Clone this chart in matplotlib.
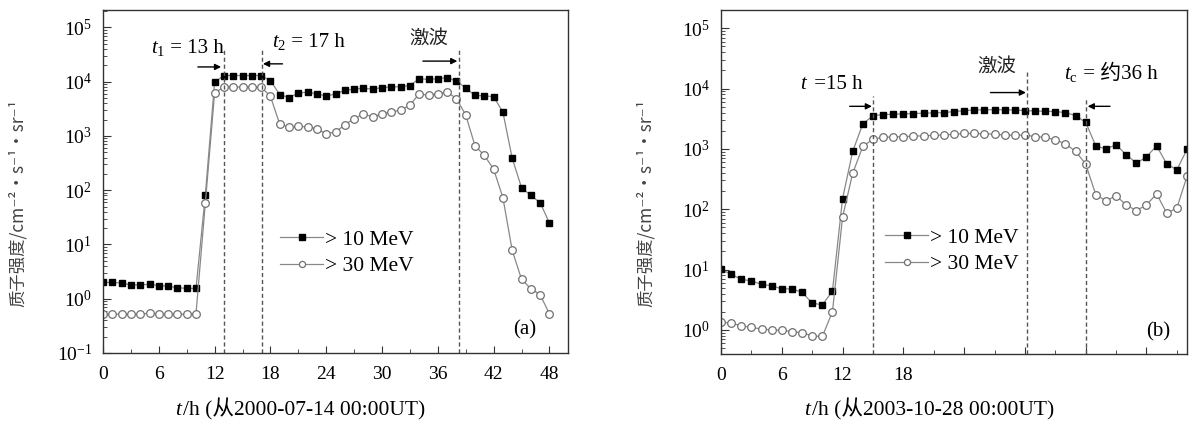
import matplotlib
matplotlib.use("Agg")
import matplotlib.pyplot as plt
from matplotlib.ticker import LogLocator, LogFormatterMathtext, MultipleLocator, NullFormatter
from matplotlib.offsetbox import TextArea, HPacker, AnnotationBbox

plt.rcParams['font.family'] = ['Liberation Serif', 'Noto Sans CJK SC']
plt.rcParams['mathtext.fontset'] = 'custom'
plt.rcParams['mathtext.rm'] = 'Liberation Serif'
plt.rcParams['mathtext.it'] = 'Liberation Serif:italic'

# panel (a): 2000-07-14, hourly
hours_a = list(range(0, 49))
p10_a = [2.0, 2.0, 1.95, 1.8, 1.8, 1.85, 1.75, 1.7, 1.6, 1.55, 1.55,
         80, 9800, 13000, 13000, 13000, 13000, 13000, 10500, 5800, 5100,
         6200, 6400, 6000, 5400, 6000, 6900, 7300, 7600, 7300, 7800,
         8000, 8100, 8500, 11400, 11000, 11400, 11800, 10500, 7600, 5600,
         5500, 5300, 2750, 390, 112, 80, 59, 25]
p30_a = [0.52, 0.52, 0.52, 0.52, 0.52, 0.54, 0.52, 0.52, 0.52, 0.52, 0.53,
         57, 6200, 8000, 8000, 8000, 8000, 8000, 5400, 1660, 1450,
         1500, 1480, 1350, 1100, 1180, 1600, 2100, 2550, 2250, 2550,
         2780, 3000, 3700, 6000, 5600, 6000, 6500, 4900, 2450, 660,
         440, 245, 73, 7.8, 2.3, 1.53, 1.19, 0.53]

# panel (b): 2003-10-28, hourly
hours_b = list(range(0, 47))
p10_b = [10.1, 8.4, 6.9, 6.5, 5.7, 5.4, 4.8, 4.8, 4.2, 2.8, 2.6,
         4.4, 150, 910, 2600, 3550, 3700, 3750, 3800, 3850, 3900,
         3950, 4000, 4150, 4300, 4400, 4450, 4450, 4450, 4400, 4300,
         4250, 4200, 4150, 4000, 3560, 2750, 1120, 1000, 1170, 800,
         580, 740, 1120, 565, 450, 980]
p30_b = [1.37, 1.29, 1.18, 1.1, 1.04, 1.0, 0.99, 0.94, 0.9, 0.8, 0.78,
         2.0, 74, 395, 1100, 1450, 1550, 1580, 1600, 1620, 1650,
         1680, 1700, 1750, 1800, 1800, 1780, 1750, 1700, 1680, 1700,
         1600, 1550, 1410, 1210, 910, 560, 174, 138, 167, 118,
         95, 118, 180, 86, 105, 350]

legend_labels = ["> 10 MeV", "> 30 MeV"]
ylabel = "质子强度/cm⁻²·s⁻¹·sr⁻¹"
W, H = 1189, 423

fig = plt.figure(figsize=(W / 100, H / 100), dpi=100)


def px_axes(left, top, right, bottom):
    return fig.add_axes([left / W, 1 - bottom / H, (right - left) / W, (bottom - top) / H])


def rich(ax, pieces, xy, coords, size=15):
    boxes = [TextArea(s, textprops=dict(size=size, **kw)) for s, kw in pieces]
    pack = HPacker(children=boxes, align="baseline", pad=0, sep=0)
    ab = AnnotationBbox(pack, xy, xycoords=coords, frameon=False,
                        box_alignment=(0.5, 0.5), pad=0)
    ax.add_artist(ab)


def arrow(ax, x0, x1, yf):
    ax.annotate("", xy=(x1, yf), xytext=(x0, yf),
                xycoords=("data", "axes fraction"), textcoords=("data", "axes fraction"),
                arrowprops=dict(arrowstyle="-|>", color="k", lw=1.0,
                                mutation_scale=9, shrinkA=0, shrinkB=0))


def style(ax, xmax, ymin, ymax, labeled):
    ax.set_yscale("log")
    ax.set_xlim(0, xmax)
    ax.set_ylim(ymin, ymax)
    ax.xaxis.set_major_locator(MultipleLocator(6))
    ax.xaxis.set_minor_locator(MultipleLocator(3))
    ax.xaxis.set_major_formatter(plt.FuncFormatter(
        lambda v, p: "%d" % v if v <= labeled else ""))
    ax.yaxis.set_major_locator(LogLocator(base=10))
    ax.yaxis.set_major_formatter(LogFormatterMathtext())
    ax.yaxis.set_minor_locator(LogLocator(base=10, subs=range(2, 10)))
    ax.yaxis.set_minor_formatter(NullFormatter())
    ax.tick_params(which="both", direction="in", top=False, right=False,
                   labelsize=14, color="#333333")
    ax.tick_params(axis="x", which="major", length=5, pad=9)
    ax.tick_params(axis="x", which="minor", length=3)
    ax.tick_params(axis="y", which="major", length=6, pad=8)
    ax.tick_params(axis="y", which="minor", length=3)
    for s in ax.spines.values():
        s.set_color("#333333")
        s.set_linewidth(1.0)


def draw_series(ax, hours, p10, p30, leg_xy):
    ax.plot(hours, p10, color="#888888", lw=0.9, marker="s", ms=4.8,
            mfc="k", mec="k", label=legend_labels[0])
    ax.plot(hours, p30, color="#888888", lw=0.9, marker="o", ms=5.5,
            mfc="white", mec="#707070", mew=0.9, label=legend_labels[1])
    ax.legend(loc="upper left", bbox_to_anchor=leg_xy, frameon=False, fontsize=15.5,
              handlelength=2.0, handletextpad=0.1, labelspacing=0.3, markerscale=0.8,
              borderpad=0, borderaxespad=0)


def vline(ax, x, top):
    ax.axvline(x, ymin=0, ymax=top, color="#555555", lw=1.0, ls=(0, (3, 2)))


# ---- panel (a)
ax1 = px_axes(103, 10, 568, 353)
draw_series(ax1, hours_a, p10_a, p30_a, (0.381, 0.36))
style(ax1, 50, 0.1, 2.1e5, 48)
vline(ax1, 13, 0.883)
vline(ax1, 17.1, 0.883)
vline(ax1, 38.3, 0.885)
rich(ax1, [(r"$t_{\mathrm{1}}$", {}), (" = 13 h", {})], (9.1, 0.889), ("data", "axes fraction"))
rich(ax1, [(r"$t_{\mathrm{2}}$", {}), (" = 17 h", {})], (22.1, 0.904), ("data", "axes fraction"))
ax1.text(35.0, 0.918, "激波", transform=ax1.get_xaxis_transform(), ha="center", va="center",
         fontsize=14, family="Noto Sans CJK SC", color="#222222")
arrow(ax1, 10.2, 12.7, 0.834)
arrow(ax1, 19.3, 17.2, 0.843)
arrow(ax1, 34.4, 38.1, 0.851)
ax1.text(45.3, 0.067, "(a)", transform=ax1.get_xaxis_transform(), ha="center", va="center",
         fontsize=15)

# ---- panel (b)
ax2 = px_axes(721, 10, 1187, 354)
draw_series(ax2, hours_b, p10_b, p30_b, (0.352, 0.367))
style(ax2, 46, 0.4, 2.0e5, 18)
vline(ax2, 15, 0.749)
vline(ax2, 30.2, 0.819)
vline(ax2, 36, 0.74)
rich(ax2, [(r"$t$", {}), (" =15 h", {})], (10.9, 0.784), ("data", "axes fraction"))
ax2.text(27.2, 0.836, "激波", transform=ax2.get_xaxis_transform(), ha="center", va="center",
         fontsize=14, family="Noto Sans CJK SC", color="#222222")
rich(ax2, [(r"$t_{\mathrm{c}}$", {}), (" = 约36 h", {})], (38.5, 0.813), ("data", "axes fraction"))
arrow(ax2, 12.7, 14.9, 0.72)
arrow(ax2, 26.6, 30.1, 0.76)
arrow(ax2, 38.4, 36.2, 0.72)
ax2.text(43.2, 0.064, "(b)", transform=ax2.get_xaxis_transform(), ha="center", va="center",
         fontsize=15)

# ---- axis titles
for xc, date in [(300, "2000-07-14"), (929, "2003-10-28")]:
    rich(fig, [(r"$t$", {}), ("/h (从" + date + " 00:00UT)", {})],
         (xc / W, 1 - 409 / H), "figure fraction", size=15.5)
for xc in (18, 646):
    fig.text(xc / W, 1 - 203 / H, ylabel, rotation=90, ha="center", va="center",
             fontsize=12.5, color="#444444", family=["Noto Sans CJK SC", "DejaVu Sans"])

fig.savefig("out.png", dpi=100)
